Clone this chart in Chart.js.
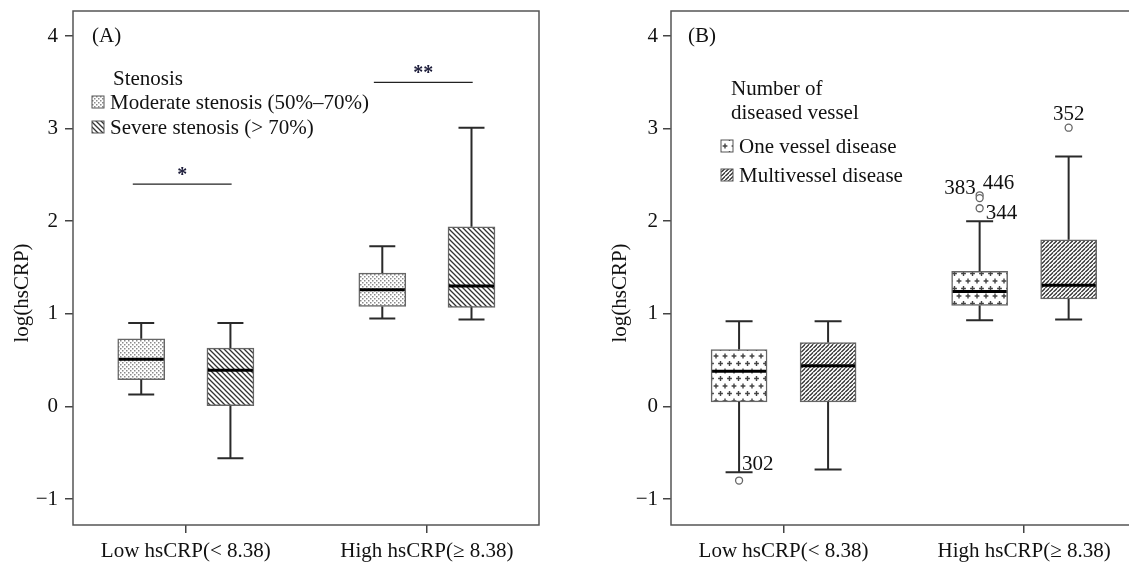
<!DOCTYPE html>
<html>
<head>
<meta charset="utf-8">
<script src="https://cdn.jsdelivr.net/npm/chart.js@4.4.0/dist/chart.umd.min.js"></script>
<style>
  html, body { margin: 0; padding: 0; background: #fff; overflow: hidden; }
  #chartA { position: absolute; left: 0; top: 0; }
  #chartB { position: absolute; left: 565px; top: 0; }
</style>
</head>
<body>
<canvas id="chartA" width="565" height="564"></canvas>
<canvas id="chartB" width="600" height="564"></canvas>
<script>
// ------- data -------
const groups = ['Low hsCRP(< 8.38)', 'High hsCRP(≥ 8.38)'];
const yTicks = [-1, 0, 1, 2, 3, 4];

// (A) stenosis
const stenosisTitle = ['Stenosis'];
const stenosisSeries = ['Moderate stenosis (50%–70%)', 'Severe stenosis (> 70%)'];
const moderateMin = [0.13, 0.95];
const moderateQ1  = [0.29, 1.08];
const moderateMed = [0.51, 1.26];
const moderateQ3  = [0.73, 1.44];
const moderateMax = [0.90, 1.73];
const severeMin = [-0.56, 0.94];
const severeQ1  = [0.00, 1.07];
const severeMed = [0.39, 1.30];
const severeQ3  = [0.63, 1.94];
const severeMax = [0.90, 3.01];
const sigLabels = ['*', '**'];
const sigLevel  = [2.40, 3.50];

// (B) number of diseased vessel
const vesselTitle = ['Number of', 'diseased vessel'];
const vesselSeries = ['One vessel disease', 'Multivessel disease'];
const oneMin = [-0.71, 0.93];
const oneQ1  = [0.05, 1.09];
const oneMed = [0.38, 1.24];
const oneQ3  = [0.615, 1.46];
const oneMax = [0.92, 2.00];
const multiMin = [-0.68, 0.94];
const multiQ1  = [0.05, 1.16];
const multiMed = [0.44, 1.31];
const multiQ3  = [0.69, 1.80];
const multiMax = [0.92, 2.70];
const oneOutGroup = [0, 1, 1, 1];
const oneOutValue = [-0.80, 2.28, 2.25, 2.14];
const oneOutCase  = ['302', '446', '383', '344'];
const multiOutGroup = [1];
const multiOutValue = [3.01];
const multiOutCase  = ['352'];

// ------- style -------
const FONT = "'Liberation Serif', 'Times New Roman', serif";
const boxOffset = 0.185;
const sigSpan = [-0.22, 0.19];
// label placement next to outlier points: [dx, dy, align]
const outLabelPos = {
  '302': [3, -11, 'left'], '446': [3, -6, 'left'], '383': [-4, -4, 'right'],
  '344': [6, 11, 'left'], '352': [0, -8, 'center']
};

Chart.defaults.font.family = FONT;
Chart.defaults.font.size = 21;
Chart.defaults.color = '#111';

function makePattern(kind) {
  const c = document.createElement('canvas');
  const x = c.getContext('2d');
  if (kind === 'dots') {
    c.width = 4; c.height = 4;
    x.fillStyle = '#fff'; x.fillRect(0, 0, 4, 4);
    x.fillStyle = '#8a8a8a';
    x.fillRect(0, 0, 1.5, 1.5); x.fillRect(2, 2, 1.5, 1.5);
  } else if (kind === 'back' || kind === 'fwd') {
    const s = kind === 'back' ? 5 : 4.5;
    c.width = s; c.height = s;
    x.fillStyle = '#fff'; x.fillRect(0, 0, s, s);
    x.strokeStyle = '#333'; x.lineWidth = 1.3;
    x.beginPath();
    if (kind === 'back') {
      x.moveTo(0, 0); x.lineTo(s, s);
      x.moveTo(-1, s - 1); x.lineTo(1, s + 1);
      x.moveTo(s - 1, -1); x.lineTo(s + 1, 1);
    } else {
      x.moveTo(0, s); x.lineTo(s, 0);
      x.moveTo(-1, 1); x.lineTo(1, -1);
      x.moveTo(s - 1, s + 1); x.lineTo(s + 1, s - 1);
    }
    x.stroke();
  } else if (kind === 'plus') {
    c.width = 9; c.height = 15;
    x.fillStyle = '#fff'; x.fillRect(0, 0, 9, 15);
    x.strokeStyle = '#444'; x.lineWidth = 1.4;
    x.beginPath();
    [[2.5, 3.5], [7, 11]].forEach(p => {
      x.moveTo(p[0] - 2.4, p[1]); x.lineTo(p[0] + 2.4, p[1]);
      x.moveTo(p[0], p[1] - 2.4); x.lineTo(p[0], p[1] + 2.4);
    });
    x.moveTo(7 - 2.4 - 9, 11); x.lineTo(7 + 2.4 - 9, 11);
    x.stroke();
  }
  return x.createPattern(c, 'repeat');
}

function boxSet(label, offset, min, q1, med, q3, max, fill, width) {
  return {
    label: label,
    data: groups.map((g, i) => ({ x: i + 1 + offset, y: [q1[i], q3[i]] })),
    whiskerLow: min,
    whiskerHigh: max,
    median: med,
    backgroundColor: fill,
    borderColor: '#666',
    borderWidth: 1.5,
    borderSkipped: false,
    barThickness: width,
    grouped: false
  };
}

function outlierSet(offset, groupIdx, values, cases) {
  return {
    type: 'scatter',
    label: 'outliers',
    data: groupIdx.map((g, i) => ({ x: g + 1 + offset, y: values[i] })),
    cases: cases,
    pointRadius: 3.5,
    pointHoverRadius: 3.5,
    pointBorderColor: '#666',
    pointBackgroundColor: '#fff',
    pointBorderWidth: 1.3
  };
}

// whiskers, caps and medians, placed with the chart scales
const boxPlotPlugin = {
  id: 'boxPlot',
  afterDatasetsDraw(chart) {
    const ctx = chart.ctx;
    const y = chart.scales.y;
    const cap = chart.options.plugins.boxPlot.cap;
    chart.data.datasets.forEach((ds, di) => {
      if (!ds.median) return;
      chart.getDatasetMeta(di).data.forEach((bar, i) => {
        const cx = bar.x, half = bar.width / 2;
        const top = Math.min(bar.y, bar.base), bot = Math.max(bar.y, bar.base);
        const yHi = y.getPixelForValue(ds.whiskerHigh[i]);
        const yLo = y.getPixelForValue(ds.whiskerLow[i]);
        const ym = y.getPixelForValue(ds.median[i]);
        ctx.save();
        ctx.strokeStyle = '#2a2a2a';
        ctx.lineWidth = 2;
        ctx.beginPath();
        ctx.moveTo(cx, top); ctx.lineTo(cx, yHi);
        ctx.moveTo(cx - cap / 2, yHi); ctx.lineTo(cx + cap / 2, yHi);
        ctx.moveTo(cx, bot); ctx.lineTo(cx, yLo);
        ctx.moveTo(cx - cap / 2, yLo); ctx.lineTo(cx + cap / 2, yLo);
        ctx.stroke();
        ctx.strokeStyle = '#000';
        ctx.lineWidth = 3;
        ctx.beginPath();
        ctx.moveTo(cx - half + 1, ym); ctx.lineTo(cx + half - 1, ym);
        ctx.stroke();
        ctx.restore();
      });
    });
  }
};

// frame, axis title, panel letter, legend, significance bars, outlier labels
const decorPlugin = {
  id: 'decor',
  afterDraw(chart) {
    const o = chart.options.plugins.decor;
    const a = chart.chartArea;
    const ctx = chart.ctx;
    const xs = chart.scales.x, ys = chart.scales.y;
    ctx.save();
    ctx.strokeStyle = '#555';
    ctx.lineWidth = 1.5;
    ctx.strokeRect(a.left, a.top, a.right - a.left, a.bottom - a.top);

    ctx.fillStyle = '#111';
    ctx.font = '21px ' + FONT;
    ctx.textBaseline = 'alphabetic';

    // y axis title
    ctx.save();
    ctx.translate(a.left - 51, 293);
    ctx.rotate(-Math.PI / 2);
    ctx.textAlign = 'center';
    ctx.textBaseline = 'middle';
    ctx.fillText('log(hsCRP)', 0, 0);
    ctx.restore();

    ctx.textAlign = 'left';
    ctx.fillText(o.panel, a.left + o.panelX, a.top + 31);

    // legend
    o.legendTitle.forEach((t, i) => ctx.fillText(t, a.left + o.titleX, a.top + o.titleY + i * 24));
    chart.data.datasets.filter(d => d.median).forEach((d, i) => {
      const sy = a.top + o.itemY[i];
      ctx.fillStyle = d.backgroundColor;
      ctx.fillRect(a.left + o.swatchX, sy - 6, 12, 12);
      ctx.strokeStyle = '#555';
      ctx.lineWidth = 1;
      ctx.strokeRect(a.left + o.swatchX, sy - 6, 12, 12);
      ctx.fillStyle = '#111';
      ctx.fillText(d.label, a.left + o.textX, sy + 7);
    });

    // significance bars
    if (o.sig) {
      sigLabels.forEach((s, i) => {
        const x0 = xs.getPixelForValue(i + 1 + sigSpan[0]);
        const x1 = xs.getPixelForValue(i + 1 + sigSpan[1]);
        const yy = ys.getPixelForValue(sigLevel[i]);
        ctx.strokeStyle = '#222';
        ctx.lineWidth = 1.3;
        ctx.beginPath(); ctx.moveTo(x0, yy); ctx.lineTo(x1, yy); ctx.stroke();
        ctx.font = 'bold 20px ' + FONT;
        ctx.textAlign = 'center';
        ctx.fillStyle = '#1c1c3a';
        ctx.fillText(s, (x0 + x1) / 2, yy - 3);
      });
    }

    // outlier case numbers
    ctx.font = '21px ' + FONT;
    ctx.fillStyle = '#111';
    chart.data.datasets.forEach((d, di) => {
      if (!d.cases) return;
      chart.getDatasetMeta(di).data.forEach((pt, i) => {
        const p = outLabelPos[d.cases[i]];
        ctx.textAlign = p[2];
        ctx.fillText(d.cases[i], pt.x + p[0], pt.y + p[1]);
      });
    });
    ctx.restore();
  }
};

function scalesFor(axisWidth, tickPad) {
  return {
    x: {
      type: 'linear',
      offset: false,
      min: 0.532,
      max: 2.465,
      afterBuildTicks: s => { s.ticks = groups.map((g, i) => ({ value: i + 1 })); },
      afterFit: s => { s.height = 39; },
      ticks: { callback: v => groups[Math.round(v) - 1], padding: 6, maxRotation: 0, autoSkip: false, color: '#111' },
      grid: { offset: false, drawOnChartArea: false, tickLength: 8, color: '#444', lineWidth: 1.5 },
      border: { display: false }
    },
    y: {
      min: -1.28,
      max: 4.27,
      afterBuildTicks: s => { s.ticks = yTicks.map(v => ({ value: v })); },
      afterFit: s => { s.width = axisWidth; s.paddingTop = 0; s.paddingBottom = 0; },
      ticks: {
        callback: v => (v < 0 ? '\u2212' + Math.abs(v) : String(v)),
        padding: tickPad,
        color: '#111'
      },
      grid: { drawOnChartArea: false, tickLength: 8, color: '#444', lineWidth: 1.5 },
      border: { display: false }
    }
  };
}

// ---------- chart A ----------
const fillModerate = makePattern('dots');
const fillSevere = makePattern('back');

new Chart(document.getElementById('chartA'), {
  type: 'bar',
  data: {
    datasets: [
      boxSet(stenosisSeries[0], -boxOffset, moderateMin, moderateQ1, moderateMed, moderateQ3, moderateMax, fillModerate, 47),
      boxSet(stenosisSeries[1], boxOffset, severeMin, severeQ1, severeMed, severeQ3, severeMax, fillSevere, 47)
    ]
  },
  options: {
    responsive: false,
    animation: false,
    layout: { padding: { left: 0, top: 11, right: 26, bottom: 0 } },
    scales: scalesFor(73, 7),
    plugins: {
      legend: { display: false },
      tooltip: { enabled: false },
      boxPlot: { cap: 26 },
      decor: { panel: '(A)', panelX: 19, legendTitle: stenosisTitle, titleX: 40, titleY: 74,
               swatchX: 19, itemY: [91, 116], textX: 37, sig: true }
    }
  },
  plugins: [boxPlotPlugin, decorPlugin]
});

// ---------- chart B ----------
const fillOne = makePattern('plus');
const fillMulti = makePattern('fwd');

new Chart(document.getElementById('chartB'), {
  type: 'bar',
  data: {
    datasets: [
      boxSet(vesselSeries[0], -boxOffset, oneMin, oneQ1, oneMed, oneQ3, oneMax, fillOne, 56),
      boxSet(vesselSeries[1], boxOffset, multiMin, multiQ1, multiMed, multiQ3, multiMax, fillMulti, 56),
      outlierSet(-boxOffset, oneOutGroup, oneOutValue, oneOutCase),
      outlierSet(boxOffset, multiOutGroup, multiOutValue, multiOutCase)
    ]
  },
  options: {
    responsive: false,
    animation: false,
    layout: { padding: { left: 0, top: 11, right: 29, bottom: 0 } },
    scales: scalesFor(106, 5),
    plugins: {
      legend: { display: false },
      tooltip: { enabled: false },
      boxPlot: { cap: 27 },
      decor: { panel: '(B)', panelX: 17, legendTitle: vesselTitle, titleX: 60, titleY: 84,
               swatchX: 50, itemY: [135, 164], textX: 68, sig: false }
    }
  },
  plugins: [boxPlotPlugin, decorPlugin]
});
</script>
</body>
</html>
